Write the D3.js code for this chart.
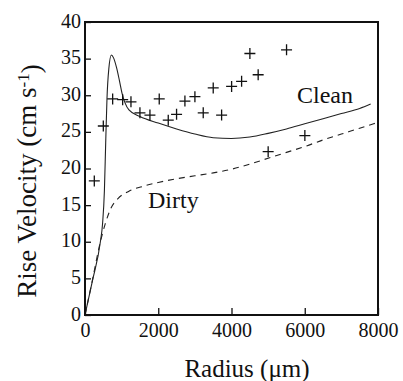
<!DOCTYPE html>
<html>
<head>
<meta charset="utf-8">
<script src="https://cdn.jsdelivr.net/npm/d3@7"></script>
<style>
  body { margin: 0; background: #fff; }
</style>
</head>
<body>
<script>
var w = 403;
var h = 381;
var margin = {top: 22, right: 25, bottom: 66, left: 85};
var serif = "Liberation Serif";

// measured points (radius in um, velocity in cm/s)
var obsRadius = [254, 500, 755, 1028, 1255, 1500, 1773, 2027, 2273, 2500, 2728, 3001,
                 3228, 3501, 3730, 4003, 4276, 4502, 4728, 5001, 5503, 6003];
var obsVelocity = [18.3, 25.8, 29.5, 29.4, 29.1, 27.6, 27.3, 29.5, 26.6, 27.4, 29.2, 29.8,
                   27.6, 31.0, 27.3, 31.2, 31.9, 35.7, 32.8, 22.3, 36.2, 24.5];

// clean bubble curve
var cleanRadius = [0, 200, 420, 480, 530, 565, 600, 650, 720, 780, 860, 940, 1010, 1090, 1200,
                   1500, 2000, 2500, 3000, 3500, 4000, 4500, 5000, 5500, 6000, 6500, 7000, 7500, 7800];
var cleanVelocity = [0, 4.6, 10.0, 12.5, 17.0, 23.5, 29.5, 33.6, 35.5, 35.1, 33.8, 32.0, 30.3, 29.0, 28.0,
                     27.1, 26.2, 25.4, 24.7, 24.2, 24.1, 24.3, 24.8, 25.4, 26.1, 26.8, 27.5, 28.2, 28.8];

// dirty bubble curve
var dirtyRadius = [0, 200, 420, 550, 700, 900, 1200, 1600, 2000, 2500, 3000, 3500, 4000,
                   4500, 5000, 5500, 6000, 6500, 7000, 7500, 8000];
var dirtyVelocity = [0, 4.7, 10.0, 12.4, 14.5, 15.9, 16.9, 17.6, 18.1, 18.6, 19.0, 19.4, 19.9,
                     20.6, 21.4, 22.2, 23.0, 23.9, 24.7, 25.5, 26.3];

var xTicks = [0, 2000, 4000, 6000, 8000];
var yTicks = [0, 5, 10, 15, 20, 25, 30, 35, 40];

var svg = d3.select("body").append("svg")
    .attr("width", w)
    .attr("height", h);

var x = d3.scaleLinear().domain([0, 8000]).range([margin.left, w - margin.right]);
var y = d3.scaleLinear().domain([0, 40]).range([h - margin.bottom, margin.top]);

var line = d3.line()
    .x(function(d) { return x(d[0]); })
    .y(function(d) { return y(d[1]); })
    .curve(d3.curveMonotoneX);

var clean = d3.zip(cleanRadius, cleanVelocity);
var dirty = d3.zip(dirtyRadius, dirtyVelocity);

svg.append("path")
    .attr("d", line(clean))
    .attr("fill", "none")
    .attr("stroke", "#222")
    .attr("stroke-width", 1.1);

svg.append("path")
    .attr("d", line(dirty))
    .attr("fill", "none")
    .attr("stroke", "#222")
    .attr("stroke-width", 1.1)
    .attr("stroke-dasharray", "6,5");

// crosses
var s = 5.5;
var pts = svg.append("g").selectAll("g")
    .data(d3.zip(obsRadius, obsVelocity))
    .enter().append("g")
    .attr("transform", function(d) { return "translate(" + x(d[0]) + "," + y(d[1]) + ")"; });
pts.append("path")
    .attr("d", "M" + (-s) + ",0H" + s + "M0," + (-s) + "V" + s)
    .attr("stroke", "#111")
    .attr("stroke-width", 1.3)
    .attr("fill", "none");

// axes, ticks pointing inward
var xAxis = svg.append("g")
    .attr("transform", "translate(0," + (h - margin.bottom) + ")")
    .call(d3.axisBottom(x).tickValues(xTicks).tickSize(-7).tickPadding(8).tickFormat(d3.format("d")));
var yAxis = svg.append("g")
    .attr("transform", "translate(" + margin.left + ",0)")
    .call(d3.axisLeft(y).tickValues(yTicks).tickSize(-6).tickPadding(4));

[xAxis, yAxis].forEach(function(a) {
    a.select(".domain").remove();
    a.selectAll("line").attr("stroke", "#111").attr("stroke-width", 1.3);
    a.selectAll("text")
        .style("font-family", serif)
        .style("font-size", "20px")
        .attr("fill", "#111");
});
yAxis.selectAll("text").attr("dy", "0.25em");

// frame
svg.append("rect")
    .attr("x", margin.left)
    .attr("y", margin.top)
    .attr("width", w - margin.left - margin.right)
    .attr("height", h - margin.top - margin.bottom)
    .attr("fill", "none")
    .attr("stroke", "#111")
    .attr("stroke-width", 2);

function label(xp, yp, size, txt) {
    return svg.append("text")
        .attr("x", xp).attr("y", yp)
        .style("font-family", serif)
        .style("font-size", size + "px")
        .attr("fill", "#111")
        .text(txt);
}

// curve labels
label(297, 103, 24, "Clean");
label(148, 208, 24, "Dirty");

// axis titles
label(247, 377, 25, "Radius (\u03bcm)").attr("text-anchor", "middle");

var yt = svg.append("text")
    .attr("transform", "translate(36,181) rotate(-90)")
    .attr("text-anchor", "middle")
    .style("font-family", serif)
    .style("font-size", "27px")
    .attr("fill", "#111");
yt.append("tspan").text("Rise Velocity (cm s");
yt.append("tspan").attr("dy", "-0.4em").style("font-size", "17px").text("-1");
yt.append("tspan").attr("dy", "0.4em").text(")");
</script>
</body>
</html>
